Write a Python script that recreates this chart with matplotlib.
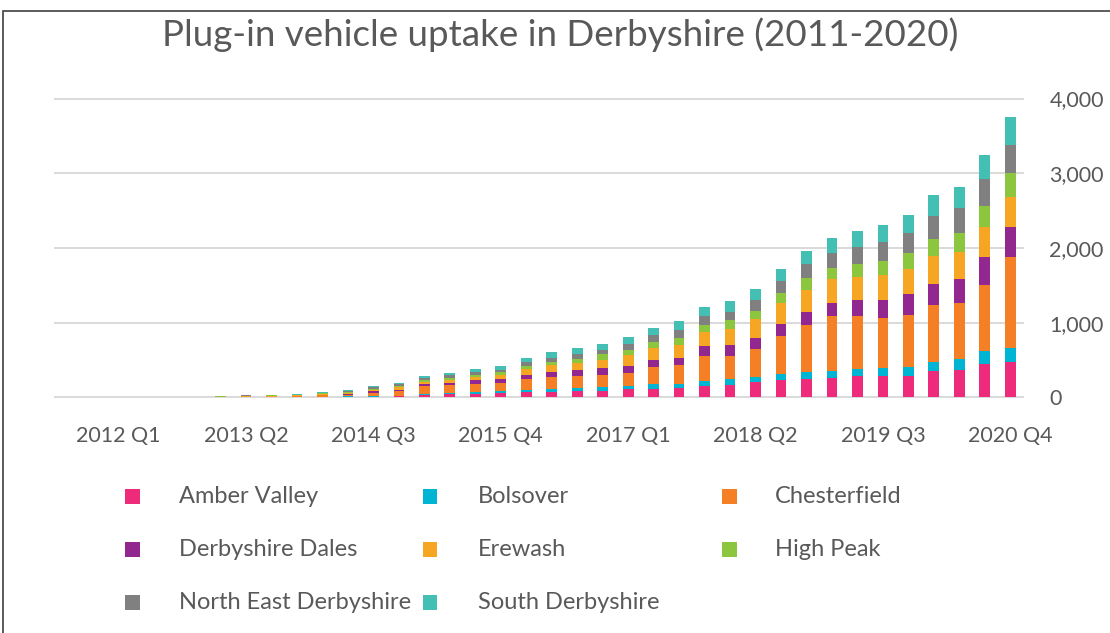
import matplotlib
matplotlib.use("Agg")
import matplotlib.pyplot as plt
from matplotlib.patches import Rectangle
from matplotlib.ticker import FuncFormatter
import numpy as np

plt.rcParams['font.family'] = ['Lato', 'DejaVu Sans']

# Quarters from 2011 Q3 to 2020 Q4
quarters = [f"{y} Q{q}" for y in range(2011, 2021) for q in range(1, 5)][2:]

districts = ["Amber Valley", "Bolsover", "Chesterfield", "Derbyshire Dales",
             "Erewash", "High Peak", "North East Derbyshire", "South Derbyshire"]
colors = ["#EE2A7B", "#00B4D4", "#F47F24", "#92278F",
          "#F6A623", "#8CC63F", "#808080", "#43BFB3"]

amber_valley = [0, 0, 0, 0, 0, 0, 0, 1, 1, 2, 3, 5, 10, 15, 27, 45, 45, 58, 71, 75,
                85, 89, 107, 116, 125, 147, 169, 200, 227, 241, 254, 281, 290, 290,
                348, 361, 450, 477]
bolsover = [0, 0, 0, 0, 0, 0, 0, 1, 1, 2, 2, 6, 5, 8, 15, 15, 26, 27, 32, 40,
            35, 45, 45, 58, 58, 73, 72, 72, 85, 98, 98, 102, 107, 116,
            129, 147, 170, 187]
chesterfield = [0, 0, 0, 0, 0, 0, 2, 3, 5, 10, 20, 20, 45, 60, 105, 105, 110, 110, 142, 157,
                170, 169, 178, 227, 249, 330, 318, 369, 512, 628, 730, 699, 664, 699,
                758, 753, 882, 1212]
derbyshire_dales = [0, 0, 0, 0, 0, 0, 1, 2, 2, 3, 5, 12, 20, 20, 27, 30, 45, 45, 58, 71,
                    71, 85, 89, 103, 98, 132, 147, 156, 160, 173, 187, 214, 245, 272,
                    285, 326, 374, 401]
erewash = [0, 0, 0, 0, 0, 0, 2, 4, 12, 12, 12, 15, 20, 30, 32, 40, 40, 55, 71, 89,
           98, 116, 143, 156, 170, 186, 214, 245, 272, 303, 317, 316, 330, 339,
           374, 361, 401, 402]
high_peak = [0, 0, 0, 0, 0, 0, 14, 12, 5, 5, 10, 12, 12, 15, 25, 30, 31, 38, 40, 40,
             58, 71, 71, 84, 98, 100, 116, 112, 138, 152, 151, 170, 182, 214,
             223, 254, 281, 325]
north_east_derbyshire = [0, 0, 0, 0, 0, 0, 1, 3, 2, 3, 5, 12, 25, 25, 25, 32, 40, 35, 58, 58,
                         58, 58, 85, 89, 102, 116, 111, 142, 160, 187, 200, 227, 259, 272,
                         316, 334, 361, 370]
south_derbyshire = [0, 0, 0, 0, 0, 0, 2, 10, 8, 12, 10, 16, 15, 20, 34, 33, 45, 45, 58, 72,
                    85, 85, 84, 99, 116, 124, 143, 160, 170, 173, 201, 214, 227, 245,
                    272, 281, 330, 379]

series = [amber_valley, bolsover, chesterfield, derbyshire_dales,
          erewash, high_peak, north_east_derbyshire, south_derbyshire]

y_ticks = [0, 1000, 2000, 3000, 4000]
label_every = 5
first_label = 2  # 2012 Q1

text_color = "#595959"
grid_color = "#D9D9D9"

W, H = 1110, 633
fig = plt.figure(figsize=(W / 100, H / 100), dpi=100)

def px(x0, y0, x1, y1):
    return [x0 / W, 1 - y1 / H, (x1 - x0) / W, (y1 - y0) / H]

ax = fig.add_axes(px(55, 98.5, 1023, 397.3))

x = np.arange(len(quarters))
bottom = np.zeros(len(quarters))
for vals, col, name in zip(series, colors, districts):
    v = np.array(vals, dtype=float)
    ax.bar(x, v, width=0.42, bottom=bottom, color=col, label=name,
           linewidth=0, zorder=3)
    bottom += v

ax.set_xlim(-0.5, len(quarters) - 0.5)
ax.set_ylim(0, 4000)
ax.set_yticks(y_ticks)
ax.yaxis.set_major_formatter(FuncFormatter(lambda v, p: f"{int(v):,}"))
ax.yaxis.tick_right()
ax.yaxis.grid(True, color=grid_color, linewidth=1.4)
for gl in ax.get_ygridlines():
    gl.set_clip_on(False)
ax.set_axisbelow(True)

tick_idx = list(range(first_label, len(quarters), label_every))
ax.set_xticks(tick_idx)
ax.set_xticklabels([quarters[i] for i in tick_idx])

for s in ax.spines.values():
    s.set_visible(False)
ax.tick_params(axis='x', length=0, pad=21, labelsize=15.5, labelcolor=text_color)
ax.tick_params(axis='y', length=0, pad=19, labelsize=15.5, labelcolor=text_color)
for lbl in ax.get_yticklabels():
    lbl.set_horizontalalignment('left')

fig.text(560 / W, 1 - 35 / H, "Plug-in vehicle uptake in Derbyshire (2011-2020)",
         ha='center', va='center', fontsize=26.5, color=text_color)

# Outer frame
fig.add_artist(Rectangle((3 / W, -0.1), 1.2, 1 - 10.5 / H + 0.1,
                         transform=fig.transFigure, fill=False,
                         edgecolor="#404040", linewidth=1.2))

# Legend laid out in a 3-column grid
marker_x = [132, 430, 729]
text_x = [179, 478, 775]
row_base = [503, 556, 609]
msize = 15
for k, (name, col) in enumerate(zip(districts, colors)):
    r, c = divmod(k, 3)
    cy = row_base[r] - 7
    fig.add_artist(Rectangle(((marker_x[c] - msize / 2) / W, 1 - (cy + msize / 2) / H),
                             msize / W, msize / H, transform=fig.transFigure,
                             facecolor=col, edgecolor='none'))
    fig.text(text_x[c] / W, 1 - row_base[r] / H, name, ha='left', va='baseline',
             fontsize=17, color=text_color)

fig.savefig("out.png", dpi=100)
